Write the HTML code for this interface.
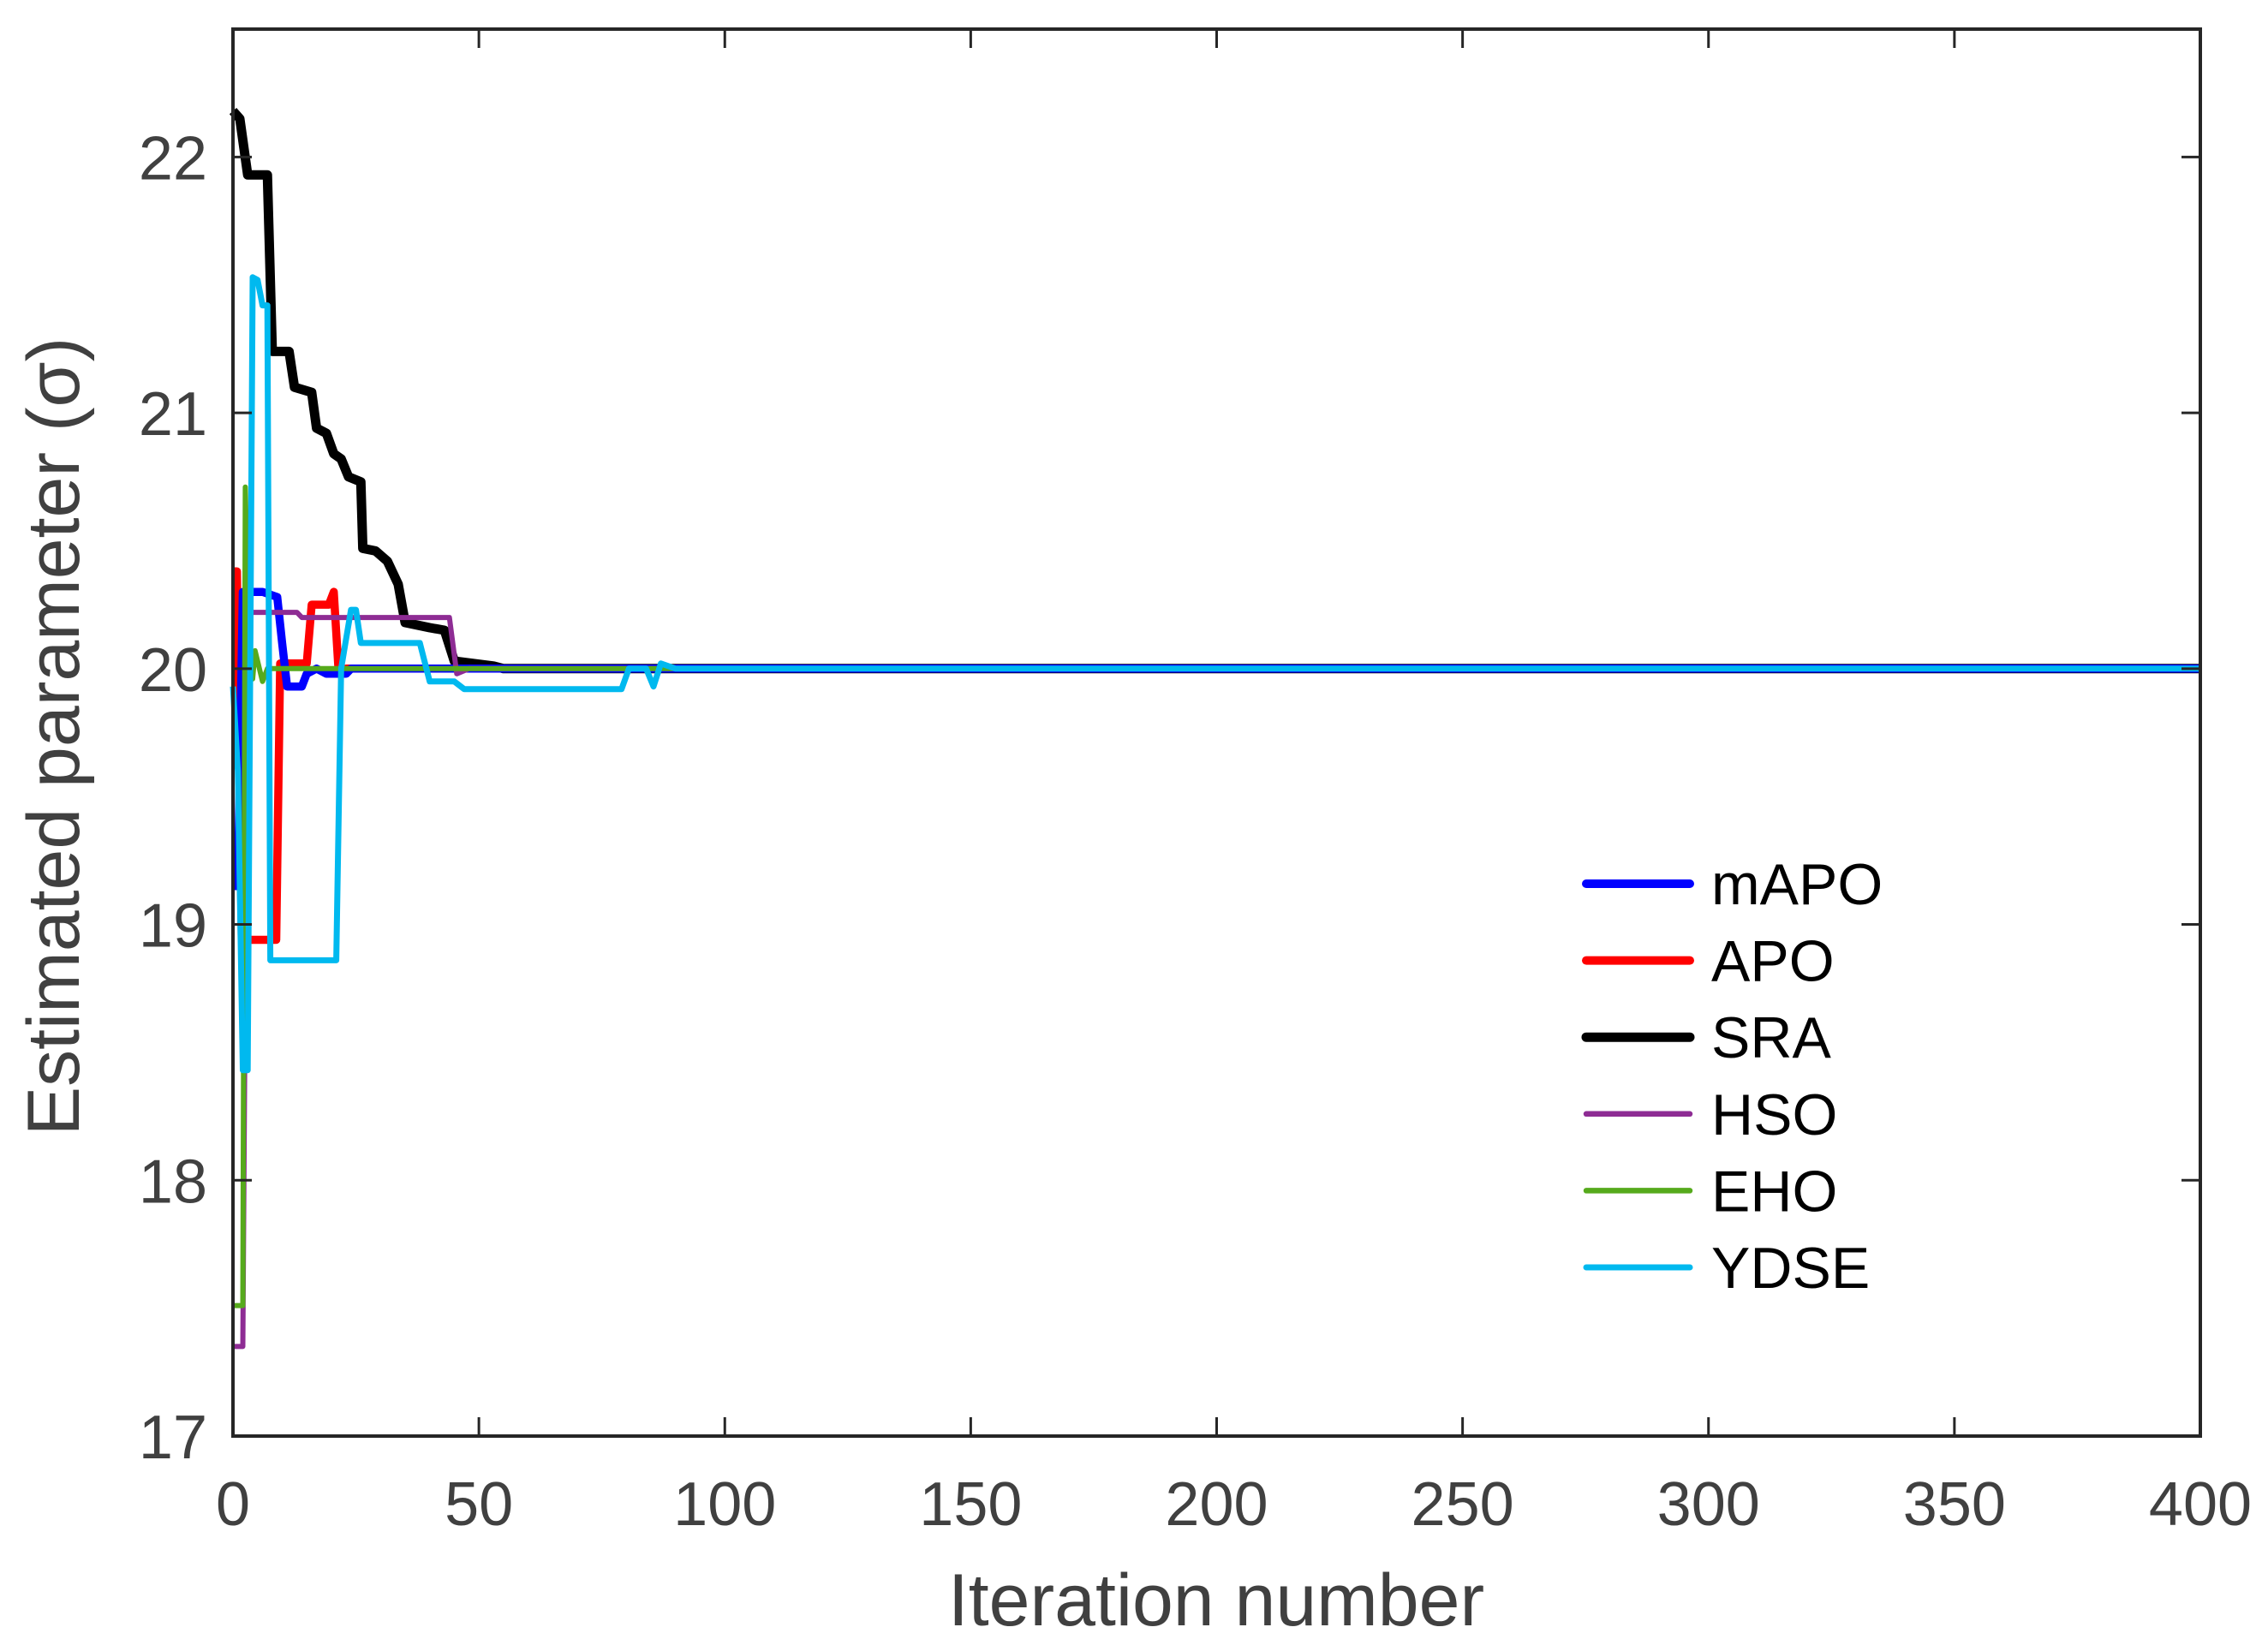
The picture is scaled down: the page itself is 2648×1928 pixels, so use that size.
<!DOCTYPE html>
<html><head><meta charset="utf-8"><style>
html,body{margin:0;padding:0;background:#fff;}
svg{display:block;font-family:"Liberation Sans",Arial,sans-serif;}
</style></head><body>
<svg id="chart" width="2648" height="1928" viewBox="0 0 2648 1928" xmlns="http://www.w3.org/2000/svg">
<rect width="2648" height="1928" fill="#fff"/>
<g id="plot"></g>
<g id="axes"></g>
<g id="legend"></g>
<text transform="translate(92,860) rotate(-90)" text-anchor="middle" font-size="86" fill="#404040">Estimated parameter (σ)</text>
<text x="1420" y="1898" text-anchor="middle" font-size="86" fill="#404040">Iteration number</text>
</svg>
<script>
const xTicks = [0,50,100,150,200,250,300,350,400];
const yTicks = [17,18,19,20,21,22];
const seriesNames = ["mAPO","APO","SRA","HSO","EHO","YDSE"];
const seriesColors = ["#0000ff","#ff0000","#000000","#8e2c94","#56aa1c","#00b9ef"];
const seriesWidths = [9.5,9.5,11,6,6,7];
const mapoData = [[0,19.15],[1,19.15],[2,20.3],[6,20.3],[9,20.28],[10,20.1],[11,19.93],[14,19.93],[15,19.98],[17,20.0],[19,19.98],[23,19.98],[24,20.0],[400,20.0]];
const apoData = [[0,20.38],[0.8,20.38],[1.8,18.94],[8.8,18.94],[9.6,20.02],[15,20.02],[16,20.25],[19.5,20.25],[20.5,20.3],[21.5,19.98],[23,20.0],[400,20.0]];
const sraData = [[0,22.18],[1.4,22.15],[3,21.93],[7,21.93],[8,21.24],[11.4,21.24],[12.5,21.1],[16,21.08],[17,20.94],[19,20.92],[20.5,20.84],[22,20.82],[23.5,20.75],[26,20.73],[26.4,20.47],[29,20.46],[31.4,20.42],[33.6,20.33],[35,20.18],[40,20.16],[43,20.15],[45,20.03],[53,20.01],[55,20.0],[400,20.0]];
const hsoData = [[0,17.35],[2,17.35],[3,20.22],[13,20.22],[14,20.2],[44,20.2],[45.5,19.98],[48,20.0],[400,20.0]];
const ehoData = [[0,17.51],[2,17.51],[2.5,20.71],[3.3,20.0],[4,19.96],[4.5,20.07],[6,19.95],[7,20.0],[400,20.0]];
const ydseData = [[0,19.93],[1,19.6],[2,18.43],[3,18.43],[4,21.53],[5,21.52],[6,21.42],[7,21.42],[7.6,18.86],[21,18.86],[22,20.0],[24,20.23],[25,20.23],[26,20.1],[38,20.1],[40,19.95],[45,19.95],[47,19.92],[79,19.92],[80.5,20.0],[84,20.0],[85.5,19.93],[87,20.02],[90,20.0],[400,20.0]];
const allData = [mapoData,apoData,sraData,hsoData,ehoData,ydseData];

const X0=272,X1=2569,Y0=1677,Y1=34;
const xMin=0,xMax=400,yMin=17,yMax=22.5;
function sx(v){return X0+(v-xMin)/(xMax-xMin)*(X1-X0);}
function sy(v){return Y0-(v-yMin)/(yMax-yMin)*(Y0-Y1);}
const NS="http://www.w3.org/2000/svg";
function mk(tag,attrs,parent){const e=document.createElementNS(NS,tag);for(const k in attrs)e.setAttribute(k,attrs[k]);parent.appendChild(e);return e;}
const plot=document.getElementById('plot'),axes=document.getElementById('axes'),legend=document.getElementById('legend');
const order=[2,1,0,3,4,5];
order.forEach(i=>{
  const d=allData[i].map((p,j)=>(j?'L':'M')+sx(p[0]).toFixed(1)+' '+sy(p[1]).toFixed(1)).join(' ');
  const p=mk('path',{d:d,fill:'none',stroke:seriesColors[i],'stroke-width':seriesWidths[i],'stroke-linejoin':'round'},plot);
  
  
});
const box=mk('rect',{x:X0,y:Y1,width:X1-X0,height:Y0-Y1,fill:'none',stroke:'#262626','stroke-width':4},axes);


xTicks.forEach(t=>{
  const x=sx(t);
  mk('line',{x1:x,y1:Y0,x2:x,y2:Y0-22,stroke:'#262626','stroke-width':3},axes);
  mk('line',{x1:x,y1:Y1,x2:x,y2:Y1+22,stroke:'#262626','stroke-width':3},axes);
  const tx=mk('text',{x:x,y:Y0+104,'text-anchor':'middle','font-size':72,fill:'#404040'},axes);
  tx.textContent=t;
  
  
});
yTicks.forEach(t=>{
  const y=sy(t);
  mk('line',{x1:X0,y1:y,x2:X0+22,y2:y,stroke:'#262626','stroke-width':3},axes);
  mk('line',{x1:X1,y1:y,x2:X1-22,y2:y,stroke:'#262626','stroke-width':3},axes);
  const tx=mk('text',{x:X0-30,y:y+26,'text-anchor':'end','font-size':72,fill:'#404040'},axes);
  tx.textContent=t;
  
  
});
const legendWidths=[10,10,11,6.5,6.5,7];
seriesNames.forEach((n,i)=>{
  const y=1032+i*89.6;
  const g=mk('g',{},legend);
  
  
  mk('line',{x1:1852,y1:y,x2:1973,y2:y,stroke:seriesColors[i],'stroke-width':legendWidths[i],'stroke-linecap':'round'},g);
  const t=mk('text',{x:1998,y:y+24,'font-size':68,fill:'#000'},g);
  t.textContent=n;
});
</script>
</body></html>
